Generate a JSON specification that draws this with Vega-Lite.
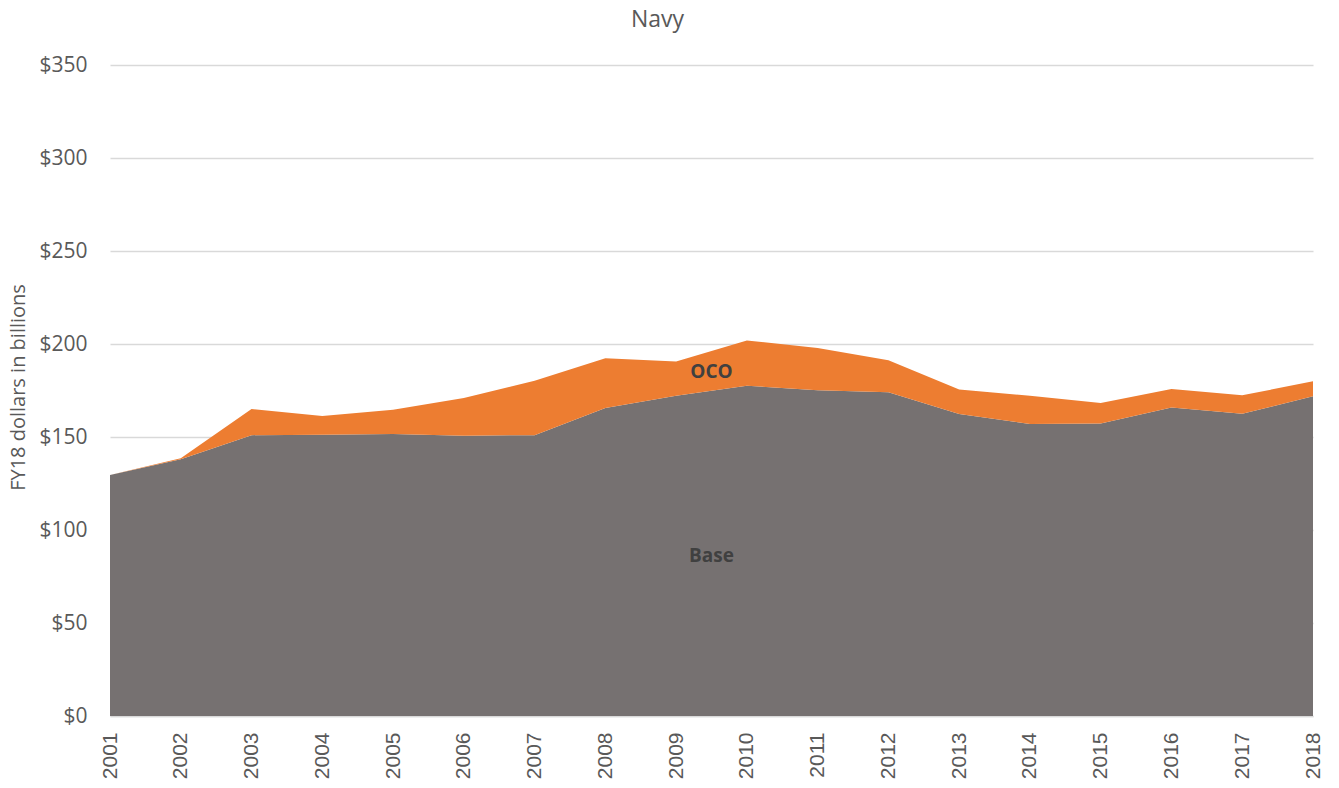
{
  "$schema": "https://vega.github.io/schema/vega-lite/v6.json",
  "width": 1203,
  "height": 651,
  "autosize": {"type": "none"},
  "padding": {"left": 110, "top": 65, "right": 26, "bottom": 72},
  "background": "white",
  "config": {
    "font": "Open Sans",
    "view": {"stroke": null}
  },
  "title": {
    "text": "Navy",
    "fontSize": 23,
    "font": "Open Sans",
    "fontWeight": "normal",
    "color": "#595959",
    "anchor": "middle",
    "frame": "group",
    "dx": -54,
    "offset": 22
  },
  "layer": [
    {
      "data": {
        "values": [
          {"year": 2001, "series": "Base", "value": 129.6},
          {"year": 2002, "series": "Base", "value": 138.0},
          {"year": 2003, "series": "Base", "value": 151.0},
          {"year": 2004, "series": "Base", "value": 151.2},
          {"year": 2005, "series": "Base", "value": 151.6},
          {"year": 2006, "series": "Base", "value": 150.7},
          {"year": 2007, "series": "Base", "value": 151.0},
          {"year": 2008, "series": "Base", "value": 165.6},
          {"year": 2009, "series": "Base", "value": 172.2},
          {"year": 2010, "series": "Base", "value": 177.6},
          {"year": 2011, "series": "Base", "value": 175.1},
          {"year": 2012, "series": "Base", "value": 174.0},
          {"year": 2013, "series": "Base", "value": 162.4},
          {"year": 2014, "series": "Base", "value": 157.0},
          {"year": 2015, "series": "Base", "value": 157.3},
          {"year": 2016, "series": "Base", "value": 165.8},
          {"year": 2017, "series": "Base", "value": 162.5},
          {"year": 2018, "series": "Base", "value": 171.9},
          {"year": 2001, "series": "OCO", "value": 0.0},
          {"year": 2002, "series": "OCO", "value": 0.6},
          {"year": 2003, "series": "OCO", "value": 14.0},
          {"year": 2004, "series": "OCO", "value": 10.1},
          {"year": 2005, "series": "OCO", "value": 13.1},
          {"year": 2006, "series": "OCO", "value": 20.3},
          {"year": 2007, "series": "OCO", "value": 29.3},
          {"year": 2008, "series": "OCO", "value": 26.8},
          {"year": 2009, "series": "OCO", "value": 18.4},
          {"year": 2010, "series": "OCO", "value": 24.3},
          {"year": 2011, "series": "OCO", "value": 22.8},
          {"year": 2012, "series": "OCO", "value": 17.3},
          {"year": 2013, "series": "OCO", "value": 13.1},
          {"year": 2014, "series": "OCO", "value": 15.2},
          {"year": 2015, "series": "OCO", "value": 11.0},
          {"year": 2016, "series": "OCO", "value": 10.0},
          {"year": 2017, "series": "OCO", "value": 9.9},
          {"year": 2018, "series": "OCO", "value": 8.1}
        ]
      },
      "mark": {"type": "area", "opacity": 1},
      "encoding": {
        "x": {
          "field": "year",
          "type": "quantitative",
          "scale": {"domain": [2001, 2018], "nice": false, "zero": false},
          "axis": {
            "title": null,
            "values": [2001,2002,2003,2004,2005,2006,2007,2008,2009,2010,2011,2012,2013,2014,2015,2016,2017,2018],
            "format": "d",
            "labelAngle": -90,
            "labelFont": "Liberation Sans",
            "labelFontSize": 21,
            "labelColor": "#595959",
            "labelPadding": 16,
            "ticks": false,
            "grid": false,
            "domain": true,
            "domainColor": "#d9d9d9",
            "domainWidth": 1.5,
            "labelFlush": false,
            "labelOverlap": false
          }
        },
        "y": {
          "field": "value",
          "type": "quantitative",
          "stack": "zero",
          "scale": {"domain": [0, 350], "nice": false},
          "axis": {
            "title": "FY18 dollars in billions",
            "titleFontSize": 20,
            "titleFontWeight": "normal",
            "titleColor": "#595959",
            "titleX": -92,
            "titleY": 322,
            "titleAngle": -90,
            "titleBaseline": "middle",
            "titleAlign": "center",
            "values": [0, 50, 100, 150, 200, 250, 300, 350],
            "labelExpr": "'$' + datum.value",
            "labelFontSize": 21,
            "labelColor": "#595959",
            "labelPadding": 23,
            "ticks": false,
            "domain": false,
            "grid": true,
            "gridColor": "#d9d9d9",
            "gridWidth": 1.3
          }
        },
        "color": {
          "field": "series",
          "type": "nominal",
          "scale": {"domain": ["Base", "OCO"], "range": ["#767171", "#ED7D31"]},
          "legend": null
        },
        "order": {"field": "series", "sort": "ascending"}
      }
    },
    {
      "data": {
        "values": [
          {"year": 2009.5, "value": 185, "label": "OCO"},
          {"year": 2009.5, "value": 86, "label": "Base"}
        ]
      },
      "mark": {
        "type": "text",
        "font": "Open Sans",
        "fontWeight": "bold",
        "fontSize": 19,
        "color": "#404040",
        "align": "center",
        "baseline": "middle"
      },
      "encoding": {
        "x": {"field": "year", "type": "quantitative"},
        "y": {"field": "value", "type": "quantitative"},
        "text": {"field": "label"}
      }
    }
  ]
}
